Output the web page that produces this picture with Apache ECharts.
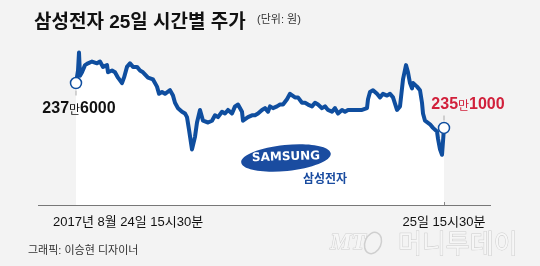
<!DOCTYPE html>
<html><head><meta charset="utf-8">
<script src="https://cdn.jsdelivr.net/npm/echarts@6/dist/echarts.min.js"></script>
<style>html,body{margin:0;padding:0;background:#f3f3f3}#c{width:540px;height:266px}</style>
</head><body><div id="c"></div>
<script>
// time step index within the session (start = previous close)
const timeIdx = [
  0,2,3,4,6,9,12,16,18,21,
  24,27,31,32,36,39,42,46,48,51,
  54,57,61,64,67,72,77,81,83,86,
  89,94,97,99,102,106,109,111,113,116,
  117,119,121,124,126,127,129,132,136,139,
  142,146,149,152,156,159,162,166,167,169,
  172,176,179,182,186,189,192,194,197,201,
  204,207,211,214,216,219,222,226,229,232,
  236,239,242,246,249,252,256,259,262,266,
  269,272,279,286,291,292,294,297,301,304,
  307,311,314,317,321,324,327,330,332,334,
  336,337,341,344,346,347,349,351,354,357,
  361,362,364,366,367,368
];
// price (won)
const prices = [
  2376000,2383000,2393000,2380000,2382000,2386000,2387000,2388000,2389000,2387000,
  2388000,2385000,2386000,2382000,2383000,2382000,2379000,2376000,2379000,2385000,
  2387000,2385000,2385000,2383000,2382000,2379000,2378000,2374000,2370000,2371000,
  2370000,2372000,2369000,2365000,2362000,2360000,2359000,2357000,2350000,2339000,
  2340000,2346000,2354000,2361000,2360000,2355000,2354000,2354000,2355000,2358000,
  2357000,2360000,2359000,2361000,2359000,2363000,2364000,2360000,2355000,2354000,
  2357000,2358000,2358000,2359000,2361000,2362000,2360000,2363000,2362000,2363000,
  2364000,2364000,2367000,2370000,2371000,2368000,2368000,2365000,2365000,2364000,
  2363000,2365000,2364000,2362000,2363000,2361000,2360000,2362000,2359000,2361000,
  2360000,2361000,2361000,2361000,2362000,2367000,2371000,2372000,2370000,2368000,
  2370000,2369000,2370000,2368000,2361000,2363000,2378000,2386000,2382000,2376000,
  2373000,2376000,2374000,2372000,2365000,2359000,2355000,2354000,2353000,2351000,
  2349000,2345000,2339000,2336000,2337000,2351000
];
const tickLabels = ['2017년 8월 24일 15시30분', '25일 15시30분'];
const titleText = '삼성전자 25일 시간별 주가';
const unitText = '(단위: 원)';

const LINE = '#0f4e9f';
const RED = '#d1203b';
const LATIN = '"Liberation Sans Narrow","Liberation Sans","Noto Sans CJK KR",sans-serif';
const KR = '"Liberation Sans","Noto Sans CJK KR",sans-serif';

function fmtPrice(p){ const man = Math.floor(p/10000); const rest = p % 10000; return {man, rest: String(rest).padStart(4,'0')}; }

const last = prices.length - 1;
const data = timeIdx.map((t,i)=>{
  if (i === 0 || i === last) {
    const col = i === 0 ? '#111' : RED;
    return {
      value:[t, prices[i]], symbol:'circle', symbolSize:11,
      itemStyle:{color:'#fff', borderColor:LINE, borderWidth:1.5},
      label:{show:true, position: i===0 ? 'bottom':'top', distance: i===0 ? 11 : 9,
        offset: i===0 ? [3,0] : [24,0],
        formatter: ()=>{ const f = fmtPrice(prices[i]); return '{n|'+f.man+'}{m|만}{n|'+f.rest+'}'; },
        rich:{
          n:{fontSize:16, fontWeight:'bold', fontFamily:LATIN, color:col},
          m:{fontSize:12, fontFamily:'"Noto Sans CJK KR",sans-serif', color:col, padding:[2,0,0,0]}
        }
      }
    };
  }
  return {value:[t, prices[i]], symbol:'none'};
});

const chart = echarts.init(document.getElementById('c'), null, {renderer:'canvas'});
chart.setOption({
  backgroundColor:'#f3f3f3',
  animation:false,
  title:{text:titleText, left:29, top:8, textStyle:{fontSize:19, fontWeight:'bold', color:'#111', fontFamily:KR}},
  grid:{left:76, right:96, top:40, bottom:61},
  xAxis:{type:'value', min:0, max:timeIdx[last], interval:timeIdx[last],
    axisLine:{show:false}, axisLabel:{show:false}, splitLine:{show:false},
    axisTick:{show:true, inside:true, length:3, lineStyle:{color:'#888'}}},
  yAxis:{type:'value', min:2308000, max:2400000, show:false, splitLine:{show:false}},
  series:[{
    type:'line', data:data, symbol:'none', z:3,
    lineStyle:{color:LINE, width:4, join:'round'},
    areaStyle:{color:'#ffffff', opacity:1, origin:'start'},
    markPoint:{
      silent:true, label:{show:false},
      data:[
        {coord:[timeIdx[0], prices[0]], symbol:'rect', symbolSize:[1,5], symbolOffset:[0,10], itemStyle:{color:'#aaa'}},
        {coord:[timeIdx[last], prices[last]], symbol:'rect', symbolSize:[1,5], symbolOffset:[0,-10], itemStyle:{color:'#aaa'}}
      ]
    }
  }],
  graphic:[
    {type:'text', left:257, top:14, style:{text:unitText, fontSize:11, fill:'#333', fontFamily:KR}},
    {type:'line', shape:{x1:38, y1:205.5, x2:491, y2:205.5}, style:{stroke:'#777', lineWidth:1}, z:10},
    {type:'text', x:53, y:222, style:{text:tickLabels[0], fontSize:13, fill:'#111', fontFamily:KR, textVerticalAlign:'middle', textAlign:'left'}},
    {type:'text', x:444, y:222, style:{text:tickLabels[1], fontSize:13, fill:'#111', fontFamily:KR, textVerticalAlign:'middle', textAlign:'center'}},
    {type:'text', x:28, y:251, style:{text:'그래픽: 이승현 디자이너', fontSize:11, fill:'#333', fontFamily:KR, textVerticalAlign:'middle'}},
    // Samsung logo
    {type:'ellipse', shape:{cx:0, cy:0, rx:45, ry:13}, x:286, y:158, rotation:0.1, style:{fill:'#1a4ca0'}, z:5},
    {type:'text', x:286, y:157, rotation:0.03, style:{text:'SAMSUNG', fontSize:12, fontWeight:'bold', fill:'#fff', fontFamily:'"DejaVu Sans",sans-serif', textAlign:'center', textVerticalAlign:'middle'}, z:6},
    {type:'text', x:303, y:178, style:{text:'삼성전자', fontSize:12, fontWeight:'bold', fill:'#1a4ca0', fontFamily:'"Noto Sans CJK KR",sans-serif', textVerticalAlign:'middle'}, z:6},
    // watermark
    {type:'text', x:330, y:243, style:{text:'MT', fontSize:24, fontStyle:'italic', fontWeight:'bold', fill:'#f6f6f6', stroke:'#cfcfcf', lineWidth:1, fontFamily:'"Liberation Serif",serif', textVerticalAlign:'middle'}},
    {type:'ellipse', shape:{cx:0, cy:0, rx:8, ry:11}, x:373, y:243, rotation:-0.4, style:{fill:'none', stroke:'#cfcfcf', lineWidth:1.5}},
    {type:'text', x:398, y:243, style:{text:'머니투데이', fontSize:26, fill:'#f6f6f6', stroke:'#cccccc', lineWidth:1, fontFamily:'"Noto Sans CJK KR",sans-serif', textVerticalAlign:'middle'}}
  ]
});
</script></body></html>
